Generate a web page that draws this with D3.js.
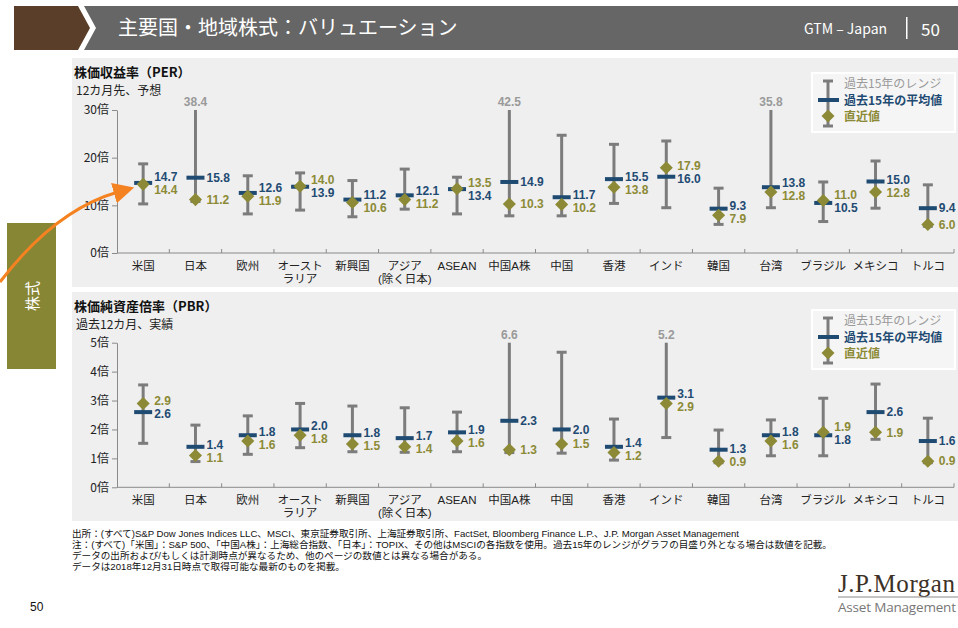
<!DOCTYPE html>
<html>
<head>
<meta charset="utf-8">
<script src="https://cdn.jsdelivr.net/npm/d3@7"></script>
<style>
  body { margin: 0; background: #fff; }
  svg { display: block; font-family: "Liberation Sans", "Noto Sans CJK JP", sans-serif; }
</style>
</head>
<body>
<div id="chart"></div>
<script>
// categories (second line after \n)
const categories = ["米国", "日本", "欧州", "オースト\nラリア", "新興国", "アジア\n(除く日本)", "ASEAN", "中国A株",
  "中国", "香港", "インド", "韓国", "台湾", "ブラジル", "メキシコ", "トルコ"];

// PER: 15y range low / high, 15y average, latest
const perLow  = [10.3, 10.8, 8.2, 9.0, 7.6, 9.2, 8.2, 7.8, 7.8, 10.4, 9.5, 6.0, 9.5, 6.6, 9.4, 5.6];
const perHigh = [18.7, 38.4, 16.2, 16.8, 15.2, 17.6, 15.9, 42.5, 24.7, 22.8, 23.5, 13.6, 35.8, 14.9, 19.3, 14.3];
const perAvg  = [14.7, 15.8, 12.6, 13.9, 11.2, 12.1, 13.4, 14.9, 11.7, 15.5, 16.0, 9.3, 13.8, 10.5, 15.0, 9.4];
const perCur  = [14.4, 11.2, 11.9, 14.0, 10.6, 11.2, 13.5, 10.3, 10.2, 13.8, 17.9, 7.9, 12.8, 11.0, 12.8, 6.0];
const perTicks = [0, 10, 20, 30];

// PBR
const pbrLow  = [1.52, 0.89, 1.14, 1.37, 1.23, 1.21, 1.23, 1.2, 1.18, 0.94, 1.72, 0.85, 1.09, 1.09, 1.66, 0.85];
const pbrHigh = [3.54, 2.15, 2.47, 2.9, 2.81, 2.75, 2.6, 6.6, 4.67, 2.36, 5.2, 1.98, 2.33, 3.08, 3.57, 2.39];
const pbrAvg  = [2.6, 1.4, 1.8, 2.0, 1.8, 1.7, 1.9, 2.3, 2.0, 1.4, 3.1, 1.3, 1.8, 1.8, 2.6, 1.6];
const pbrCur  = [2.9, 1.1, 1.6, 1.8, 1.5, 1.4, 1.6, 1.3, 1.5, 1.2, 2.9, 0.9, 1.6, 1.9, 1.9, 0.9];
const pbrTicks = [0, 1, 2, 3, 4, 5];

const legendLabels = ["過去15年のレンジ", "過去15年の平均値", "直近値"];

const W = 958, H = 628;
const GRAY = "#7c7c7c", NAVY = "#1f4b73", OLIVE = "#8c8a36", AXIS = "#8a8a8a";
const JP = "'Noto Sans CJK JP', sans-serif";

const svg = d3.select("#chart").append("svg").attr("width", W).attr("height", H);

// header
svg.append("polygon").attr("points", "14,6 78,6 90,28 78,50 14,50").attr("fill", "#5b3e29");
svg.append("polygon").attr("points", "84,6 958,6 958,50 84,50 96,28").attr("fill", "#666666");
svg.append("text").attr("x", 118).attr("y", 35).attr("fill", "#fff")
  .style("font-family", JP).style("font-size", "20px").text("主要国・地域株式：バリュエーション");
svg.append("text").attr("x", 804).attr("y", 34).attr("fill", "#fff")
  .style("font-family", JP).style("font-size", "14px").text("GTM – Japan");
svg.append("rect").attr("x", 906).attr("y", 17).attr("width", 1.5).attr("height", 22).attr("fill", "#fff");
svg.append("text").attr("x", 921).attr("y", 36).attr("fill", "#fff")
  .style("font-family", JP).style("font-size", "17px").text("50");

// panels
svg.append("rect").attr("x", 72).attr("y", 58).attr("width", W - 72).attr("height", 229).attr("fill", "#efefef");
svg.append("rect").attr("x", 72).attr("y", 292).attr("width", W - 72).attr("height", 229).attr("fill", "#efefef");

const x = d3.scaleBand().domain(d3.range(categories.length)).range([117, 954]);

function drawPanel(cfg) {
  const g = svg.append("g");
  const y = d3.scaleLinear().domain([0, cfg.max]).range([cfg.bottom, cfg.top]);

  g.append("text").attr("x", 74).attr("y", cfg.titleY).style("font-family", JP)
    .style("font-size", "13px").style("font-weight", "bold").attr("fill", "#111").text(cfg.title);
  g.append("text").attr("x", 76).attr("y", cfg.titleY + 18).style("font-family", JP)
    .style("font-size", "12px").attr("fill", "#222").text(cfg.subtitle);

  // y axis
  const ya = g.append("g").attr("transform", "translate(117,0)")
    .call(d3.axisLeft(y).tickValues(cfg.ticks).tickSize(5).tickSizeOuter(0).tickPadding(3).tickFormat(d => d + "倍"));
  ya.selectAll("path, line").attr("stroke", AXIS);
  ya.selectAll("text").style("font-family", JP).style("font-size", "12px").attr("fill", "#222");

  // x axis
  g.append("line").attr("x1", 117).attr("x2", 954).attr("y1", cfg.bottom).attr("y2", cfg.bottom).attr("stroke", AXIS);
  g.selectAll(".xt").data(d3.range(1, categories.length + 1)).join("line")
    .attr("x1", i => x(0) + i * x.step()).attr("x2", i => x(0) + i * x.step())
    .attr("y1", cfg.bottom).attr("y2", cfg.bottom - 4).attr("stroke", AXIS);
  const lines = [];
  categories.forEach((c, i) => c.split("\n").forEach((t, j) => lines.push({ i, j, t })));
  g.selectAll(".xl").data(lines).join("text")
    .attr("x", d => x(d.i) + x.bandwidth() / 2).attr("y", d => cfg.bottom + 16.5 + d.j * 13)
    .attr("text-anchor", "middle").style("font-size", "11.5px").attr("fill", "#222")
    .text(d => d.t);

  const cx = i => x(i) + x.bandwidth() / 2;
  const idx = d3.range(categories.length);

  // range bars
  g.selectAll(".rng").data(idx).join("line")
    .attr("x1", cx).attr("x2", cx)
    .attr("y1", i => y(cfg.low[i])).attr("y2", i => y(Math.min(cfg.high[i], cfg.max)))
    .attr("stroke", GRAY).attr("stroke-width", 3);
  g.selectAll(".capL").data(idx).join("line")
    .attr("x1", i => cx(i) - 5).attr("x2", i => cx(i) + 5)
    .attr("y1", i => y(cfg.low[i])).attr("y2", i => y(cfg.low[i]))
    .attr("stroke", GRAY).attr("stroke-width", 3);
  g.selectAll(".capH").data(idx.filter(i => cfg.high[i] <= cfg.max)).join("line")
    .attr("x1", i => cx(i) - 5).attr("x2", i => cx(i) + 5)
    .attr("y1", i => y(cfg.high[i])).attr("y2", i => y(cfg.high[i]))
    .attr("stroke", GRAY).attr("stroke-width", 3);
  // values beyond the scale
  g.selectAll(".clip").data(idx.filter(i => cfg.high[i] > cfg.max)).join("text")
    .attr("x", cx).attr("y", y(cfg.max) - 4).attr("text-anchor", "middle")
    .style("font-size", "12px").style("font-weight", "bold").attr("fill", "#9a9a9a")
    .text(i => cfg.high[i].toFixed(1));

  // averages
  g.selectAll(".avg").data(idx).join("rect")
    .attr("x", i => cx(i) - 9).attr("y", i => y(cfg.avg[i]) - 2)
    .attr("width", 18).attr("height", 4).attr("fill", NAVY);
  // latest
  g.selectAll(".cur").data(idx).join("path")
    .attr("d", d3.symbol(d3.symbolSquare, 85))
    .attr("transform", i => `translate(${cx(i)},${y(cfg.cur[i])}) rotate(45)`)
    .attr("fill", OLIVE);

  // value labels, pushed apart when they collide
  idx.forEach(i => {
    let ya = y(cfg.avg[i]), yc = y(cfg.cur[i]);
    const gap = 13;
    if (Math.abs(ya - yc) < gap) {
      const mid = (ya + yc) / 2;
      const avgTop = cfg.avg[i] > cfg.cur[i];
      ya = mid + (avgTop ? -gap / 2 : gap / 2);
      yc = mid + (avgTop ? gap / 2 : -gap / 2);
    }
    g.append("text").attr("x", cx(i) + 11).attr("y", ya).attr("dy", "0.35em")
      .style("font-size", "12px").style("font-weight", "bold").attr("fill", NAVY).text(cfg.avg[i].toFixed(1));
    g.append("text").attr("x", cx(i) + 11).attr("y", yc).attr("dy", "0.35em")
      .style("font-size", "12px").style("font-weight", "bold").attr("fill", OLIVE).text(cfg.cur[i].toFixed(1));
  });

  // legend
  const lg = g.append("g").attr("transform", `translate(812,${cfg.legendY})`);
  lg.append("rect").attr("width", 143).attr("height", 59).attr("fill", "#f5f5f5").attr("stroke", "#fff").attr("stroke-width", 2);
  lg.append("line").attr("x1", 16).attr("x2", 16).attr("y1", 8).attr("y2", 53).attr("stroke", GRAY).attr("stroke-width", 3);
  lg.append("line").attr("x1", 11).attr("x2", 21).attr("y1", 8).attr("y2", 8).attr("stroke", GRAY).attr("stroke-width", 3);
  lg.append("line").attr("x1", 11).attr("x2", 21).attr("y1", 53).attr("y2", 53).attr("stroke", GRAY).attr("stroke-width", 3);
  lg.append("rect").attr("x", 6).attr("y", 25).attr("width", 21).attr("height", 4).attr("fill", NAVY);
  lg.append("path").attr("d", d3.symbol(d3.symbolSquare, 85)).attr("transform", "translate(16,43) rotate(45)").attr("fill", OLIVE);
  const lcol = ["#9a9a9a", NAVY, OLIVE];
  lg.selectAll(".lt").data(legendLabels).join("text")
    .attr("x", 32).attr("y", (d, j) => [11, 27.5, 44][j]).attr("dy", "0.35em")
    .style("font-family", JP).style("font-size", "12px").style("font-weight", (d, j) => j === 0 ? "normal" : "bold")
    .attr("fill", (d, j) => lcol[j]).text(d => d);
}

drawPanel({ title: "株価収益率（PER）", subtitle: "12カ月先、予想", titleY: 77, max: 30, ticks: perTicks,
  top: 110, bottom: 253, low: perLow, high: perHigh, avg: perAvg, cur: perCur, legendY: 73 });
drawPanel({ title: "株価純資産倍率（PBR）", subtitle: "過去12カ月、実績", titleY: 311, max: 5, ticks: pbrTicks,
  top: 342.7, bottom: 487.3, low: pbrLow, high: pbrHigh, avg: pbrAvg, cur: pbrCur, legendY: 310 });

// side tab
svg.append("rect").attr("x", 7).attr("y", 223).attr("width", 49).attr("height", 146).attr("fill", "#878634");
svg.append("text").attr("transform", "translate(38,296) rotate(-90)").attr("text-anchor", "middle")
  .style("font-family", JP).style("font-size", "15px").attr("fill", "#fff").text("株式");

// orange arrow
svg.append("defs").append("marker").attr("id", "ah").attr("viewBox", "0 0 10 10")
  .attr("refX", 2).attr("refY", 5).attr("markerWidth", 7).attr("markerHeight", 7).attr("orient", "auto")
  .append("path").attr("d", "M0,0 L10,5 L0,10 z").attr("fill", "#f58220");
svg.append("path").attr("d", "M0,282 Q55,210 118,192").attr("fill", "none")
  .attr("stroke", "#f58220").attr("stroke-width", 3).attr("marker-end", "url(#ah)");

// footnotes
const notes = [
  "出所：(すべて)S&P Dow Jones Indices LLC、MSCI、東京証券取引所、上海証券取引所、FactSet, Bloomberg Finance L.P.、J.P. Morgan Asset Management",
  "注：(すべて)「米国」：S&P 500、「中国A株」：上海総合指数、「日本」：TOPIX、その他はMSCIの各指数を使用。過去15年のレンジがグラフの目盛り外となる場合は数値を記載。",
  "データの出所および/もしくは計測時点が異なるため、他のページの数値とは異なる場合がある。",
  "データは2018年12月31日時点で取得可能な最新のものを掲載。"
];
svg.selectAll(".fn").data(notes).join("text")
  .attr("x", 72).attr("y", (d, i) => 537 + i * 11)
  .style("font-size", "9.6px").attr("fill", "#111").text(d => d);

svg.append("text").attr("x", 30).attr("y", 611).style("font-size", "12px").attr("fill", "#111").text("50");

// logo
svg.append("text").attr("x", 838).attr("y", 592).style("font-family", "'Liberation Serif', serif")
  .style("font-size", "25px").attr("fill", "#3d3127").attr("textLength", 117).text("J.P.Morgan");
svg.append("line").attr("x1", 838).attr("x2", 958).attr("y1", 597).attr("y2", 597).attr("stroke", "#8a8a8a");
svg.append("text").attr("x", 838).attr("y", 612).style("font-family", "'Open Sans', sans-serif")
  .style("font-size", "13.5px").attr("fill", "#777").attr("textLength", 118).text("Asset Management");
</script>
</body>
</html>
